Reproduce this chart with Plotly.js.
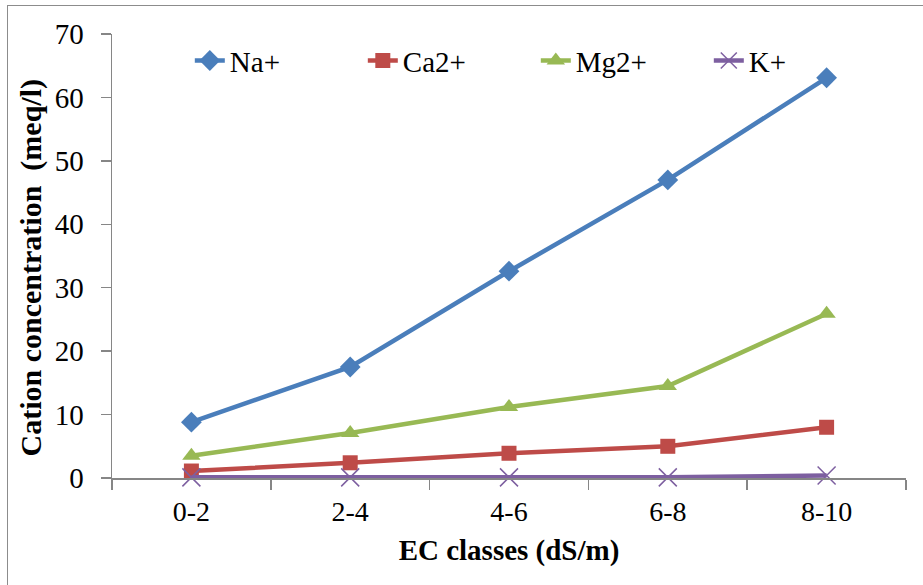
<!DOCTYPE html>
<html>
<head>
<meta charset="utf-8">
<script src="https://cdn.plot.ly/plotly-3.0.1.min.js"></script>
<style>
html,body{margin:0;padding:0;background:#fff;}
#wrap{position:relative;width:923px;height:585px;overflow:hidden;}
#chart{position:absolute;left:0;top:0;width:923px;height:585px;}
#frame{position:absolute;left:7px;top:5px;width:940px;height:600px;border:1.5px solid #8c8c8c;pointer-events:none;}
</style>
</head>
<body>
<div id="wrap"><div id="chart"></div><div id="frame"></div></div>
<script>
const categories = ["0-2", "2-4", "4-6", "6-8", "8-10"];
const naValues = [8.8, 17.5, 32.6, 47.0, 63.1];
const caValues = [1.1, 2.4, 3.9, 5.0, 8.0];
const mgValues = [3.5, 7.1, 11.2, 14.5, 25.9];
const kValues = [0.1, 0.1, 0.1, 0.1, 0.4];
const seriesNames = ["Na+", "Ca2+", "Mg2+", "K+"];
const yTicks = [0, 10, 20, 30, 40, 50, 60, 70];
const xTitle = "EC classes (dS/m)";
const yTitle = "Cation concentration  (meq/l)";

const colors = ["#4A7EBB", "#BE4B48", "#98B954", "#7D5FA0"];
const symbols = ["diamond", "square", "triangle-up", "x-thin"];
const sizes = [16, 15, 16, 18];
const allValues = [naValues, caValues, mgValues, kValues];

const traces = allValues.map((vals, i) => ({
  type: "scatter",
  mode: "lines+markers",
  x: categories,
  y: vals,
  name: seriesNames[i],
  cliponaxis: false,
  line: {color: colors[i], width: 4.5},
  marker: {symbol: symbols[i], size: sizes[i], color: colors[i],
           line: {color: colors[i], width: i === 3 ? 1.5 : 0}}
}));

const fam = "Liberation Serif";
const font = {family: fam, color: "#000"};

const layout = {
  width: 923, height: 585,
  font: {family: fam, color: "#000"},
  margin: {l: 112, r: 17, t: 34, b: 107},
  paper_bgcolor: "#fff", plot_bgcolor: "#fff",
  showlegend: true,
  legend: {
    orientation: "h", x: 0.098, xanchor: "left", y: 0.94, yanchor: "middle",
    font: Object.assign({size: 29}, font),
    entrywidth: 128, entrywidthmode: "pixels",
    bgcolor: "rgba(0,0,0,0)"
  },
  xaxis: {
    type: "category",
    range: [-0.5, 4.5],
    showgrid: false, zeroline: false,
    showline: true, linecolor: "#868686", linewidth: 1.5,
    ticks: "outside", tickson: "boundaries", ticklen: 10, tickcolor: "#868686", tickwidth: 1.5,
    tickfont: Object.assign({size: 28}, font),
    ticklabelstandoff: 8,
    title: {text: "<b>" + xTitle + "</b>", font: Object.assign({size: 29}, font), standoff: 13}
  },
  yaxis: {
    range: [0, 70],
    tickvals: yTicks,
    showgrid: false, zeroline: false,
    showline: true, linecolor: "#868686", linewidth: 1.5,
    ticks: "outside", ticklen: 10, tickcolor: "#868686", tickwidth: 1.5,
    tickfont: Object.assign({size: 29}, font),
    ticklabelstandoff: 11
  },
  annotations: [{
    text: "<b>" + yTitle + "</b>", textangle: -90,
    xref: "paper", yref: "paper", x: -0.102, y: 0.472,
    xanchor: "center", yanchor: "middle", showarrow: false,
    font: Object.assign({size: 30}, font)
  }]
};

Plotly.newPlot("chart", traces, layout, {displayModeBar: false, staticPlot: true});
</script>
</body>
</html>
